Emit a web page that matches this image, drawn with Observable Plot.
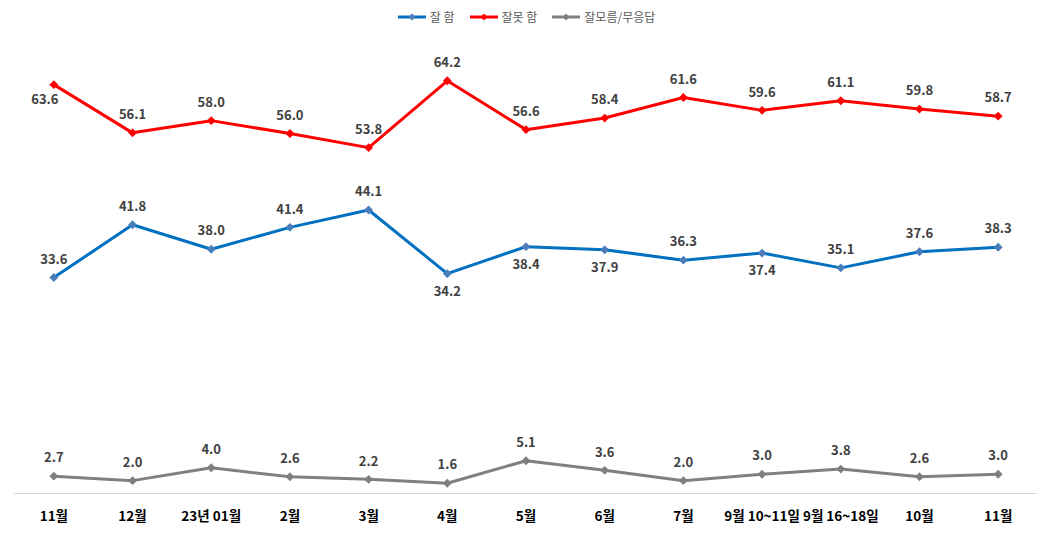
<!DOCTYPE html>
<html><head><meta charset="utf-8">
<script src="https://cdn.jsdelivr.net/npm/d3@7"></script>
<script src="https://cdn.jsdelivr.net/npm/@observablehq/plot@0.6"></script>
<style>
body{margin:0;background:#fff;font-family:"Noto Sans CJK KR","Noto Sans",sans-serif;}
#wrap{position:relative;width:1052px;height:537px;}
#legend{position:absolute;top:8px;left:0;width:1052px;display:flex;justify-content:center;gap:14px;font-size:12px;color:#595959;}
.item{display:flex;align-items:center;gap:3px;}
</style></head>
<body><div id="wrap"><div id="legend"></div><div id="chart"></div></div>
<script>
const categories = ["11월","12월","23년 01월","2월","3월","4월","5월","6월","7월","9월 10~11일","9월 16~18일","10월","11월"];
const good = [33.6,41.8,38.0,41.4,44.1,34.2,38.4,37.9,36.3,37.4,35.1,37.6,38.3];
const bad = [63.6,56.1,58.0,56.0,53.8,64.2,56.6,58.4,61.6,59.6,61.1,59.8,58.7];
const unknown = [2.7,2.0,4.0,2.6,2.2,1.6,5.1,3.6,2.0,3.0,3.8,2.6,3.0];
const seriesNames = ["잘 함","잘못 함","잘모름/무응답"];

// label placement (which points get their label below the point)
const goodBelow = [5,6,7,9];
const badBelow = [0];

const lineColors = ["#0070C0","#FF0000","#808080"];
const markColors = ["#4A7EBB","#FF0000","#7F7F7F"];
const values = [good, bad, unknown];
const rows = [];
values.forEach((arr, s) => arr.forEach((v, i) => rows.push({i, v, s})));
const isBelow = d => (d.s === 0 && goodBelow.includes(d.i)) || (d.s === 1 && badBelow.includes(d.i));
const tickFmt = i => categories[i];

const fmt = d3.format(".1f");
const plot = Plot.plot({
  width: 1052, height: 537,
  marginLeft: 14, marginRight: 15, marginTop: 43, marginBottom: 44,
  x: {type: "band", domain: d3.range(categories.length), padding: 0, round: false, tickFormat: tickFmt, label: null, axis: null},
  y: {domain: [0, 70], axis: null},
  style: {fontFamily: "'Noto Sans CJK KR', sans-serif", background: "#fff"},
  marks: [
    Plot.ruleY([0], {stroke: "#D9D9D9", strokeWidth: 1}),
    Plot.axisX({tickSize: 0, tickPadding: 18, tickFormat: tickFmt, fontSize: 13.5, fontWeight: "bold", fill: "#000", label: null}),
    ...[0,1,2].map(s => Plot.line(rows.filter(d => d.s === s), {x: "i", y: "v", stroke: lineColors[s], strokeWidth: 3})),
    ...[0,1,2].map(s => Plot.dot(rows.filter(d => d.s === s), {x: "i", y: "v", symbol: "diamond2", fill: markColors[s], r: 4})),
    Plot.text(rows.filter(d => !isBelow(d)), {x: "i", y: "v", text: d => fmt(d.v), dy: -18, fontSize: 13, fontWeight: "bold", fill: "#404040"}),
    Plot.text(rows.filter(d => isBelow(d) && !(d.s === 1 && d.i === 0)), {x: "i", y: "v", text: d => fmt(d.v), dy: 18, fontSize: 13, fontWeight: "bold", fill: "#404040"}),
    Plot.text(rows.filter(d => d.s === 1 && d.i === 0), {x: "i", y: "v", text: d => fmt(d.v), dy: 15, dx: -9, fontSize: 13, fontWeight: "bold", fill: "#404040"})
  ]
});
document.getElementById("chart").appendChild(plot);

const legend = document.getElementById("legend");
seriesNames.forEach((n, s) => {
  const it = document.createElement("div");
  it.className = "item";
  it.innerHTML = `<svg width="30" height="10"><line x1="1" x2="29" y1="5" y2="5" stroke="${lineColors[s]}" stroke-width="3"/><path d="M15,1.5L18.5,5L15,8.5L11.5,5Z" fill="${markColors[s]}"/></svg><span>${n}</span>`;
  legend.appendChild(it);
});
</script></body></html>
